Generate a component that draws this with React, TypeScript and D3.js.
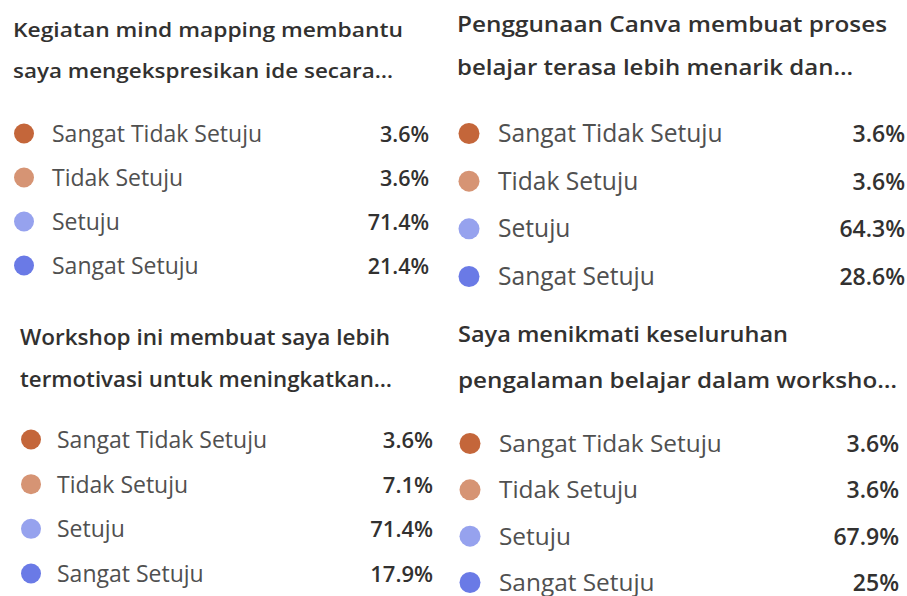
import React from "react";
import * as d3 from "d3";

const categories = ["Sangat Tidak Setuju", "Tidak Setuju", "Setuju", "Sangat Setuju"];
const categoryColors = ["#C4663A", "#D69474", "#96A2EE", "#6A7AE6"];

const titles = [
  ["Kegiatan mind mapping membantu", "saya mengekspresikan ide secara…"],
  ["Penggunaan Canva membuat proses", "belajar terasa lebih menarik dan…"],
  ["Workshop ini membuat saya lebih", "termotivasi untuk meningkatkan…"],
  ["Saya menikmati keseluruhan", "pengalaman belajar dalam worksho…"],
];

const valuesQ1 = [3.6, 3.6, 71.4, 21.4];
const valuesQ2 = [3.6, 3.6, 64.3, 28.6];
const valuesQ3 = [3.6, 7.1, 71.4, 17.9];
const valuesQ4 = [3.6, 3.6, 67.9, 25];
const allValues = [valuesQ1, valuesQ2, valuesQ3, valuesQ4];

// layout per panel (positions only)
const layouts = [
  { titleX: 13, titleY: [37, 78], titleW: [390, 380], titleFs: 20.5, dotX: 24, labelX: 52, valueR: 429, rows: [142, 274], labelFs: 23, valueFs: 21.5, r: 10 },
  { titleX: 457, titleY: [32, 75], titleW: [430, 396], titleFs: 22, dotX: 469, labelX: 498, valueR: 905, rows: [142, 285], labelFs: 24.6, valueFs: 23, r: 10.5 },
  { titleX: 20, titleY: [345, 387], titleW: [370, 372], titleFs: 21, dotX: 31, labelX: 57, valueR: 433, rows: [448, 582], labelFs: 23, valueFs: 22, r: 10 },
  { titleX: 458, titleY: [342, 388], titleW: [330, 439], titleFs: 22, dotX: 470, labelX: 499, valueR: 899, rows: [452, 591], labelFs: 24.4, valueFs: 23, r: 10.5 },
];

const FONT = "'Open Sans', 'Noto Sans', sans-serif";
const fmt = (v: number) => `${d3.format("~")(v)}%`;

export default function App() {
  const color = d3.scaleOrdinal<string, string>().domain(categories).range(categoryColors);
  return (
    <svg width={907} height={596} style={{ position: "absolute", left: 0, top: 0, background: "#fff" }} fontFamily={FONT}>
      <rect width={907} height={596} fill="#fff" />
      {layouts.map((L, pi) => {
        const y = d3.scalePoint<string>().domain(categories).range(L.rows);
        return (
          <g key={pi}>
            {titles[pi].map((t, li) => (
              <text key={li} x={L.titleX} y={L.titleY[li]} fontSize={L.titleFs} fontWeight={600} fill="#323130"
                textLength={L.titleW[li]} lengthAdjust="spacingAndGlyphs">{t}</text>
            ))}
            {categories.map((c, i) => (
              <g key={c}>
                <circle cx={L.dotX} cy={(y(c) ?? 0) - 8.5} r={L.r} fill={color(c)} />
                <text x={L.labelX} y={y(c)} fontSize={L.labelFs} fontWeight={400} fill="#505050">{c}</text>
                <text x={L.valueR} y={y(c)} fontSize={L.valueFs} fontWeight={600} fill="#323130" textAnchor="end">{fmt(allValues[pi][i])}</text>
              </g>
            ))}
          </g>
        );
      })}
    </svg>
  );
}
